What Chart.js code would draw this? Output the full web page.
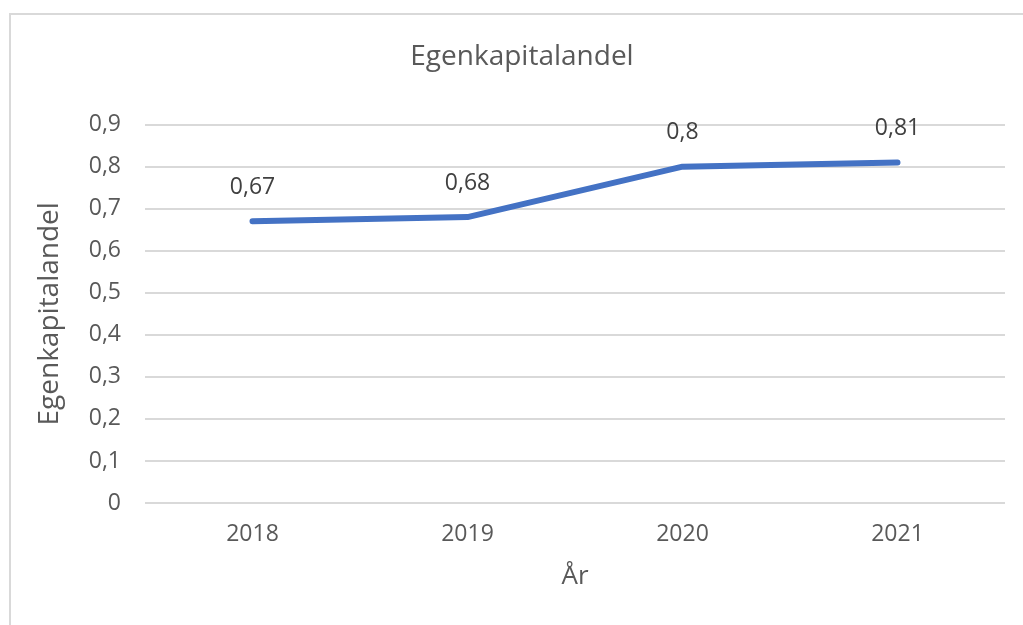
<!DOCTYPE html>
<html>
<head>
<meta charset="utf-8">
<script src="https://cdn.jsdelivr.net/npm/chart.js@4"></script>
<style>
  html, body { margin: 0; padding: 0; background: #fff; overflow: hidden; }
  #frame {
    position: absolute; left: 9px; top: 13px;
    width: 2000px; height: 2000px;
    border: 2px solid #d9d9d9;
  }
  #wrap { position: absolute; left: 0; top: 0; width: 1044px; height: 625px; }
</style>
</head>
<body>
<div id="frame"></div>
<div id="wrap"><canvas id="chart"></canvas></div>
<script>
const years = ['2018', '2019', '2020', '2021'];
const equityRatio = [0.67, 0.68, 0.8, 0.81];
const yTicks = [0, 0.1, 0.2, 0.3, 0.4, 0.5, 0.6, 0.7, 0.8, 0.9];

const textColor = '#595959';
const fontFamily = '"Open Sans", sans-serif';
const fmt = v => String(Math.round(v * 100) / 100).replace('.', ',');

// value labels above each point
const pointLabels = {
    id: 'pointLabels',
    afterDatasetsDraw(chart) {
        const ctx = chart.ctx;
        const meta = chart.getDatasetMeta(0);
        ctx.save();
        ctx.font = '23px ' + fontFamily;
        ctx.fillStyle = '#404040';
        ctx.textAlign = 'center';
        ctx.textBaseline = 'middle';
        meta.data.forEach((pt, i) => {
            ctx.fillText(fmt(equityRatio[i]), pt.x, pt.y - 34);
        });
        ctx.restore();
    }
};

new Chart(document.getElementById('chart'), {
    type: 'line',
    data: {
        labels: years,
        datasets: [{
            label: 'Egenkapitalandel',
            data: equityRatio,
            borderColor: '#4472C4',
            borderWidth: 6,
            borderCapStyle: 'round',
            borderJoinStyle: 'round',
            pointRadius: 0,
            tension: 0
        }]
    },
    options: {
        responsive: true,
        maintainAspectRatio: false,
        animation: false,
        layout: { padding: 0 },
        plugins: {
            legend: { display: false },
            tooltip: { enabled: false },
            title: {
                display: true,
                text: 'Egenkapitalandel',
                color: textColor,
                font: { family: fontFamily, size: 28, weight: 'normal' },
                padding: { top: 40, bottom: 51 }
            }
        },
        scales: {
            x: {
                offset: true,
                grid: { display: false, drawTicks: false },
                border: { display: false },
                ticks: {
                    color: textColor,
                    font: { family: fontFamily, size: 23 },
                    padding: 18
                },
                title: {
                    display: true,
                    text: 'År',
                    color: textColor,
                    font: { family: fontFamily, size: 26 },
                    padding: { top: 0, bottom: 33 }
                },
                afterFit(scale) { scale.height = 122; }
            },
            y: {
                min: 0,
                max: 0.9,
                afterBuildTicks(scale) { scale.ticks = yTicks.map(v => ({ value: v })); },
                grid: { color: '#d9d9d9', lineWidth: 2, drawTicks: false },
                border: { display: false },
                ticks: {
                    color: textColor,
                    font: { family: fontFamily, size: 23 },
                    padding: 24,
                    callback: v => fmt(v)
                },
                title: {
                    display: true,
                    text: 'Egenkapitalandel',
                    color: textColor,
                    font: { family: fontFamily, size: 28 },
                    padding: { top: 33, bottom: 0 }
                },
                afterFit(scale) { scale.width = 145; }
            },
            spacer: {
                position: 'right',
                grid: { display: false, drawTicks: false },
                border: { display: false },
                ticks: { display: false },
                afterFit(scale) { scale.width = 39; }
            }
        }
    },
    plugins: [pointLabels]
});
</script>
</body>
</html>
